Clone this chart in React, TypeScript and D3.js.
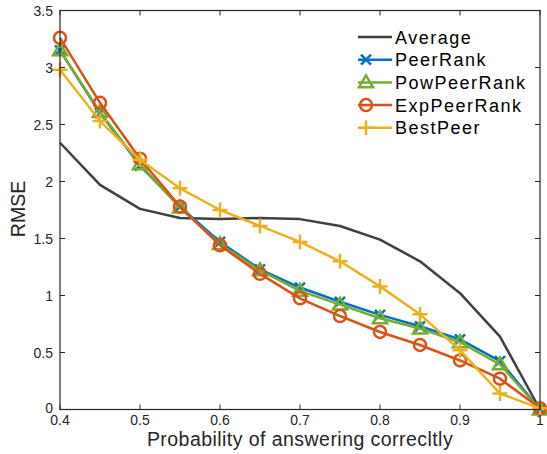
import React from "react";
import * as d3 from "d3";

const xs = [0.4, 0.45, 0.5, 0.55, 0.6, 0.65, 0.7, 0.75, 0.8, 0.85, 0.9, 0.95, 1.0];
const average = [2.34, 1.97, 1.76, 1.68, 1.67, 1.68, 1.67, 1.61, 1.49, 1.3, 1.02, 0.64, 0.0];
const peerRank = [3.15, 2.6, 2.14, 1.78, 1.47, 1.23, 1.07, 0.945, 0.83, 0.73, 0.615, 0.425, 0.0];
const powPeerRank = [3.15, 2.61, 2.15, 1.77, 1.45, 1.22, 1.04, 0.92, 0.8, 0.71, 0.59, 0.395, 0.0];
const expPeerRank = [3.26, 2.69, 2.2, 1.78, 1.44, 1.19, 0.975, 0.82, 0.68, 0.566, 0.43, 0.27, 0.01];
const bestPeer = [2.98, 2.53, 2.19, 1.94, 1.75, 1.61, 1.47, 1.3, 1.08, 0.835, 0.52, 0.14, 0.01];

const xTicks = [0.4, 0.5, 0.6, 0.7, 0.8, 0.9, 1];
const yTicks = [0, 0.5, 1, 1.5, 2, 2.5, 3, 3.5];

const series = [
  { name: "Average", values: average, color: "#404040", marker: "none" },
  { name: "PeerRank", values: peerRank, color: "#0072BD", marker: "x" },
  { name: "PowPeerRank", values: powPeerRank, color: "#77AC30", marker: "tri" },
  { name: "ExpPeerRank", values: expPeerRank, color: "#D95319", marker: "circle" },
  { name: "BestPeer", values: bestPeer, color: "#EDB120", marker: "plus" },
];

const L = 60, R = 540, T = 10.5, B = 409.5;

function Marker({ type, x, y, color }: { type: string; x: number; y: number; color: string }) {
  const sw = 2.5;
  if (type === "x") {
    const s = 5;
    return (
      <path d={`M${x - s},${y - s}L${x + s},${y + s}M${x - s},${y + s}L${x + s},${y - s}`} stroke={color} strokeWidth={sw} fill="none" />
    );
  }
  if (type === "plus") {
    const s = 7.5;
    return <path d={`M${x - s},${y}L${x + s},${y}M${x},${y - s}L${x},${y + s}`} stroke={color} strokeWidth={sw} fill="none" />;
  }
  if (type === "circle") {
    return <circle cx={x} cy={y} r={6} stroke={color} strokeWidth={sw} fill="none" />;
  }
  if (type === "tri") {
    const s = 7;
    return (
      <path d={`M${x},${y - s}L${x + s},${y + s * 0.7}L${x - s},${y + s * 0.7}Z`} stroke={color} strokeWidth={sw} fill="none" strokeLinejoin="miter" />
    );
  }
  return null;
}

export default function App() {
  const x = d3.scaleLinear().domain([0.4, 1]).range([L, R]);
  const y = d3.scaleLinear().domain([0, 3.5]).range([B, T]);
  const line = d3
    .line<number>()
    .x((_, i) => x(xs[i]))
    .y((d) => y(d));
  const font = "'Liberation Sans', Arial, Helvetica, sans-serif";
  const tickLen = 5;
  const legX = 358, legY0 = 37, legDy = 22.7;

  return (
    <svg width={547} height={454} style={{ position: "absolute", left: 0, top: 0 }} fontFamily={font}>
      <rect x={0} y={0} width={547} height={454} fill="white" />
      {series.map((s) => (
        <g key={s.name}>
          <path d={line(s.values) || ""} fill="none" stroke={s.color} strokeWidth={2.5} strokeLinejoin="round" />
          {s.values.map((v, i) => (
            <Marker key={i} type={s.marker} x={x(xs[i])} y={y(v)} color={s.color} />
          ))}
        </g>
      ))}
      <rect x={L} y={T} width={R - L} height={B - T} fill="none" stroke="#262626" strokeWidth={1.2} />
      {xTicks.map((t) => (
        <g key={"x" + t}>
          <line x1={x(t)} x2={x(t)} y1={B} y2={B - tickLen} stroke="#262626" strokeWidth={1} />
          <line x1={x(t)} x2={x(t)} y1={T} y2={T + tickLen} stroke="#262626" strokeWidth={1} />
          <text x={x(t)} y={425} textAnchor="middle" fontSize={14} fill="#262626">
            {String(t)}
          </text>
        </g>
      ))}
      {yTicks.map((t) => (
        <g key={"y" + t}>
          <line x1={L} x2={L + tickLen} y1={y(t)} y2={y(t)} stroke="#262626" strokeWidth={1} />
          <line x1={R} x2={R - tickLen} y1={y(t)} y2={y(t)} stroke="#262626" strokeWidth={1} />
          <text x={53} y={y(t) + (t === 0 ? 3.5 : 5)} textAnchor="end" fontSize={14} fill="#262626">
            {String(t)}
          </text>
        </g>
      ))}
      <text x={300} y={446} textAnchor="middle" fontSize={19.5} letterSpacing={0.45} fill="#262626">
        Probability of answering correcltly
      </text>
      <text transform={`translate(25,209) rotate(-90)`} textAnchor="middle" fontSize={19.5} fill="#262626">
        RMSE
      </text>
      {series.map((s, i) => {
        const ly = legY0 + i * legDy;
        return (
          <g key={"leg" + s.name}>
            <line x1={legX} x2={legX + 34} y1={ly} y2={ly} stroke={s.color} strokeWidth={2.5} />
            <Marker type={s.marker} x={legX + 8} y={ly} color={s.color} />
            <text x={395} y={ly + 6.5} fontSize={18} letterSpacing={1.5} fill="#000">
              {s.name}
            </text>
          </g>
        );
      })}
    </svg>
  );
}
